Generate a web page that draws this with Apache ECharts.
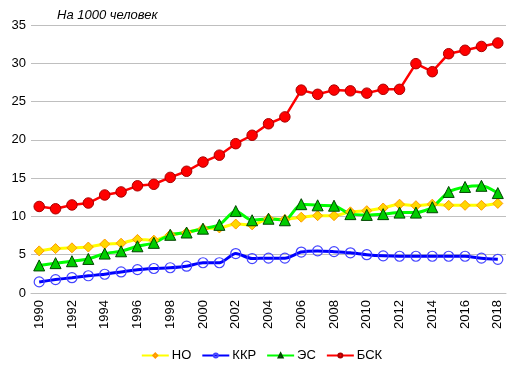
<!DOCTYPE html>
<html>
<head>
<meta charset="utf-8">
<script src="https://cdn.jsdelivr.net/npm/echarts@6/dist/echarts.min.js"></script>
<style>
html,body{margin:0;padding:0;background:#fff;}
#c{width:523px;height:372px;}
</style>
</head>
<body>
<div id="c"></div>
<script>
const years = ['1990','1991','1992','1993','1994','1995','1996','1997','1998','1999','2000','2001','2002','2003','2004','2005','2006','2007','2008','2009','2010','2011','2012','2013','2014','2015','2016','2017','2018'];
const seriesNames = ['НО','ККР','ЭС','БСК'];
const valuesNO  = [5.5,5.8,5.9,6.0,6.4,6.5,7.0,6.9,7.6,7.9,8.4,8.5,9.0,8.9,9.7,9.6,9.9,10.1,10.1,10.6,10.75,11.1,11.6,11.4,11.6,11.45,11.45,11.45,11.7];
const valuesKKR = [1.45,1.75,2.0,2.25,2.45,2.75,3.05,3.2,3.3,3.5,3.95,3.95,5.15,4.5,4.55,4.55,5.35,5.5,5.4,5.25,5.0,4.85,4.8,4.8,4.8,4.8,4.8,4.55,4.4];
const valuesES  = [3.6,3.9,4.15,4.45,5.15,5.45,6.1,6.55,7.6,7.9,8.4,8.9,10.7,9.5,9.7,9.5,11.6,11.45,11.4,10.3,10.2,10.3,10.5,10.5,11.2,13.2,13.85,14.0,13.05];
const valuesBSK = [11.3,11.0,11.5,11.75,12.8,13.2,14.0,14.2,15.1,15.9,17.1,18.0,19.5,20.6,22.1,23.0,26.5,25.95,26.5,26.4,26.1,26.6,26.6,29.95,28.9,31.25,31.7,32.2,32.65];
const yTicks = {min:0, max:35, interval:5};
const titleText = 'На 1000 человек';

const font = '"Liberation Sans", Arial, sans-serif';
const chart = echarts.init(document.getElementById('c'), null, {renderer:'canvas'});
chart.setOption({
  animation:false,
  backgroundColor:'#ffffff',
  graphic:[{type:'text', left:57, top:9, style:{text:titleText, font:'italic 13px "Liberation Sans", Arial, sans-serif', fill:'#000'}}],
  grid:{left:31, right:17, top:25, bottom:79, containLabel:false},
  legend:{
    bottom:5, left:'center', itemWidth:27, itemHeight:5, itemGap:10,
    textStyle:{fontFamily:font, fontSize:13, color:'#000', padding:[0,0,0,-2]},
    data:seriesNames
  },
  xAxis:{
    type:'category', data:years, boundaryGap:true,
    axisLine:{lineStyle:{color:'#bfbfbf', width:1}},
    axisTick:{show:false},
    axisLabel:{rotate:90, interval:1, fontFamily:font, fontSize:13, color:'#000', margin:7},
    splitLine:{show:false}
  },
  yAxis:{
    type:'value', min:yTicks.min, max:yTicks.max, interval:yTicks.interval,
    axisLine:{show:false}, axisTick:{show:false},
    axisLabel:{fontFamily:font, fontSize:13, color:'#000', margin:5},
    splitLine:{lineStyle:{color:'#bfbfbf', width:1}}
  },
  series:[
    {name:'НО', type:'line', data:valuesNO, smooth:0.25, symbol:'diamond', symbolSize:10, showAllSymbol:true,
     lineStyle:{color:'#ffff00', width:3}, itemStyle:{color:'#ffd700', borderColor:'#ff9900', borderWidth:1}},
    {name:'ККР', type:'line', data:valuesKKR, smooth:0.25, symbol:'circle', symbolSize:10, showAllSymbol:true,
     lineStyle:{color:'#0000ff', width:3}, itemStyle:{color:'rgba(255,255,255,0)', borderColor:'#4444ff', borderWidth:1.2}},
    {name:'ЭС', type:'line', data:valuesES, smooth:0.25, symbol:'triangle', symbolSize:11, showAllSymbol:true,
     lineStyle:{color:'#00ff00', width:3}, itemStyle:{color:'#00cc00', borderColor:'#004400', borderWidth:1}},
    {name:'БСК', type:'line', data:valuesBSK, smooth:false, symbol:'circle', symbolSize:10.5, showAllSymbol:true,
     lineStyle:{color:'#ff0000', width:2.5}, itemStyle:{color:'#ff0000', borderColor:'#aa0000', borderWidth:1}}
  ]
});
</script>
</body>
</html>
